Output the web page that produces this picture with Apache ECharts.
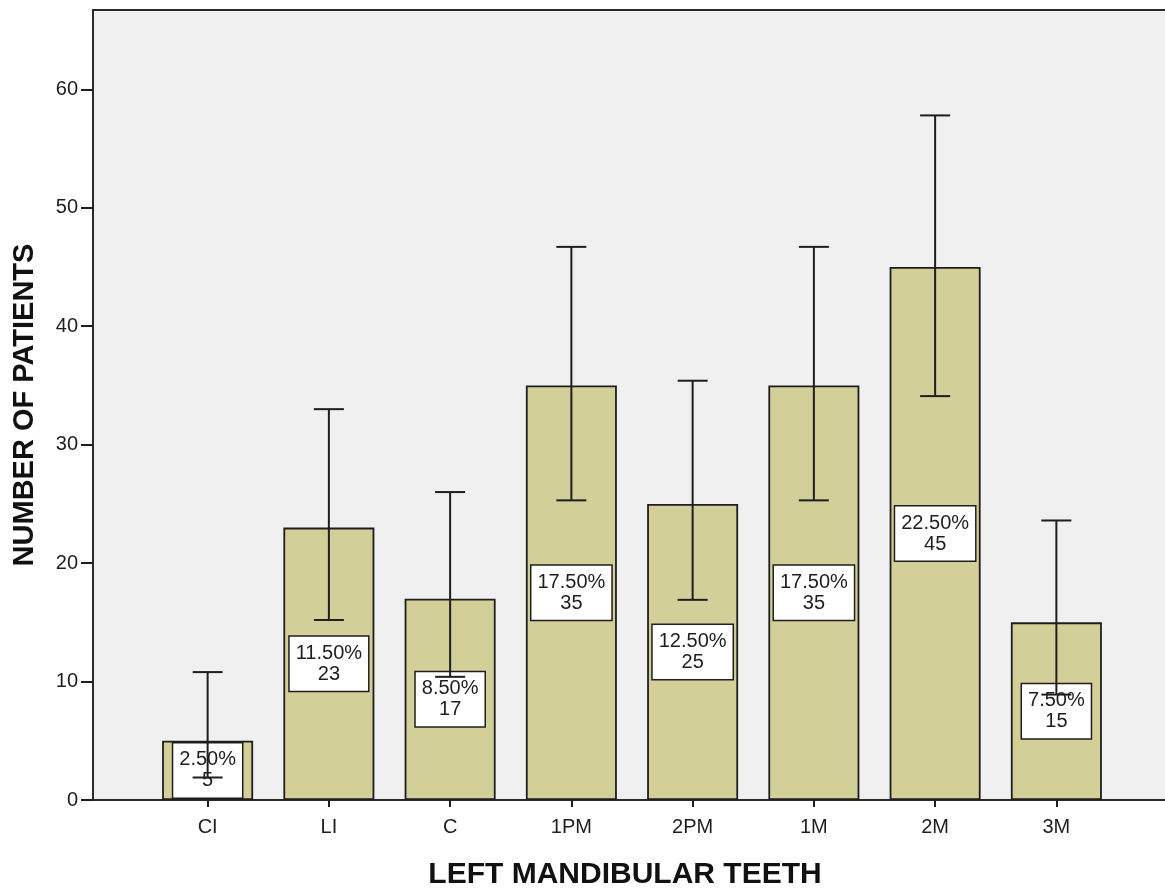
<!DOCTYPE html>
<html>
<head>
<meta charset="utf-8">
<script src="https://cdn.jsdelivr.net/npm/echarts@6/dist/echarts.min.js"></script>
<style>
html,body{margin:0;padding:0;background:#fff;}
#chart{width:1165px;height:888px;}
</style>
</head>
<body>
<div id="chart"></div>
<script>
const categories = ['CI', 'LI', 'C', '1PM', '2PM', '1M', '2M', '3M'];
const counts = [5, 23, 17, 35, 25, 35, 45, 15];
const percents = ['2.50', '11.50', '8.50', '17.50', '12.50', '17.50', '22.50', '7.50'];
const errLow = [1.9, 15.2, 10.4, 25.3, 16.9, 25.3, 34.1, 8.9];
const errHigh = [10.8, 33.0, 26.0, 46.7, 35.4, 46.7, 57.8, 23.6];
const yTicks = [0, 10, 20, 30, 40, 50, 60];
const yMax = 66.7;

const FONT = '"Liberation Sans", Arial, Helvetica, sans-serif';
const INK = '#1e1e1e';

const chart = echarts.init(document.getElementById('chart'), null, {renderer: 'canvas'});

const option = {
  animation: false,
  backgroundColor: '#ffffff',
  textStyle: {fontFamily: FONT},
  title: {
    text: 'LEFT MANDIBULAR TEETH',
    left: 620,
    top: 855,
    textAlign: 'center',
    textStyle: {fontFamily: FONT, fontSize: 30, fontWeight: 'bold', color: '#111'}
  },
  grid: [
    {left: 93, top: 10, width: 1090, bottom: 88, show: true, backgroundColor: '#f0f0f0',
     borderColor: '#2a2a2a', borderWidth: 2, containLabel: false, outerBoundsMode: 'none'},
    {left: 147, width: 970, top: 10, bottom: 88, containLabel: false, outerBoundsMode: 'none'}
  ],
  xAxis: [
    {type: 'value', gridIndex: 0, min: 0, max: 1, show: false},
    {type: 'category', gridIndex: 1, data: categories, boundaryGap: true,
     axisLine: {show: false},
     axisTick: {show: true, alignWithLabel: true, length: 7, inside: false,
                lineStyle: {color: INK, width: 2}},
     axisLabel: {fontFamily: FONT, fontSize: 20, color: INK, margin: 17},
     splitLine: {show: false}}
  ],
  yAxis: [
    {type: 'value', gridIndex: 0, min: 0, max: yMax,
     axisLine: {show: true, lineStyle: {color: '#2a2a2a', width: 2}},
     axisTick: {show: true, length: 12, customValues: yTicks, lineStyle: {color: INK, width: 2}},
     axisLabel: {fontFamily: FONT, fontSize: 20, color: INK, margin: 15, customValues: yTicks},
     splitLine: {show: false},
     name: 'NUMBER OF PATIENTS', nameLocation: 'middle', nameGap: 54, nameRotate: 90,
     nameTextStyle: {fontFamily: FONT, fontSize: 29, fontWeight: 'bold', color: '#111'}},
    {type: 'value', gridIndex: 1, min: 0, max: yMax, show: false}
  ],
  series: [
    {
      type: 'bar',
      xAxisIndex: 1, yAxisIndex: 1,
      data: counts,
      barWidth: 91,
      z: 2,
      itemStyle: {color: '#d3cf99', borderColor: INK, borderWidth: 1.8},
      label: {
        show: true,
        position: 'inside',
        formatter: p => percents[p.dataIndex] + '%\n' + p.value,
        fontFamily: FONT, fontSize: 20, lineHeight: 21, color: INK,
        backgroundColor: '#ffffff', borderColor: INK, borderWidth: 1.5,
        padding: [6, 6, 6, 6]
      }
    },
    {
      type: 'custom',
      xAxisIndex: 1, yAxisIndex: 1,
      z: 10,
      data: categories.map((c, i) => [i, errLow[i], errHigh[i]]),
      renderItem: function (params, api) {
        const x = api.value(0);
        const lo = api.coord([x, api.value(1)]);
        const hi = api.coord([x, api.value(2)]);
        const half = 15;
        const style = {stroke: INK, lineWidth: 2, fill: null};
        return {
          type: 'group',
          children: [
            {type: 'line', shape: {x1: hi[0], y1: hi[1], x2: lo[0], y2: lo[1]}, style: style},
            {type: 'line', shape: {x1: hi[0] - half, y1: hi[1], x2: hi[0] + half, y2: hi[1]}, style: style},
            {type: 'line', shape: {x1: lo[0] - half, y1: lo[1], x2: lo[0] + half, y2: lo[1]}, style: style}
          ]
        };
      }
    }
  ]
};
chart.setOption(option);
</script>
</body>
</html>
